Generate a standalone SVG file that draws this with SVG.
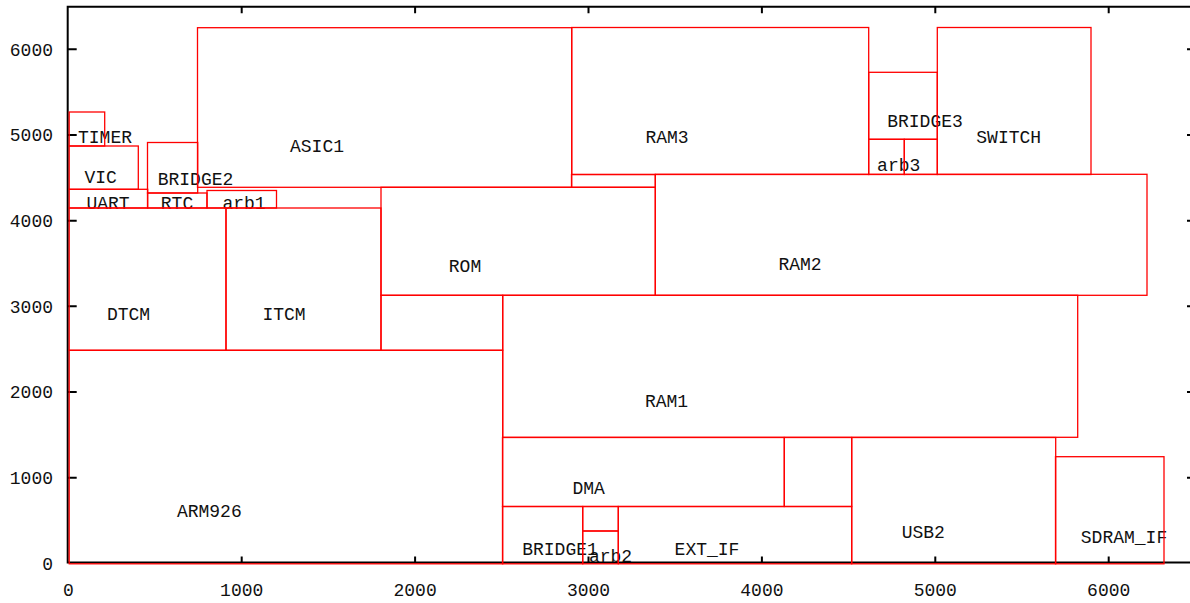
<svg xmlns="http://www.w3.org/2000/svg" width="1190" height="603" viewBox="0 0 1190 603">
<style>
.blk{fill:none;stroke:#ff0000;stroke-width:1.3}
.lbl{font-family:"Liberation Mono","DejaVu Sans Mono",monospace;font-size:18px;fill:#111;text-anchor:middle}
.tk{font-family:"Liberation Mono","DejaVu Sans Mono",monospace;font-size:18px;fill:#111}
.ax{fill:none;stroke:#000;stroke-width:2}
</style>
<rect width="1190" height="603" fill="#fff"/>
<g id="axes">
<path class="ax" d="M67.7,6.7 H1195 V562.5 H67.7 Z"/>
<path class="ax" d="M67.7,49.3h9M67.7,135h9M67.7,220.7h9M67.7,306.3h9M67.7,392h9M67.7,477.7h9M1187,49.3h9M1187,135h9M1187,220.7h9M1187,306.3h9M1187,392h9M1187,477.7h9"/>
<path class="ax" d="M241.7,6.7v6.5M415.1,6.7v6.5M588.5,6.7v6.5M761.9,6.7v6.5M935.3,6.7v6.5M1108.7,6.7v6.5M241.7,562.5v-6M415.1,562.5v-6M588.5,562.5v-6M761.9,562.5v-6M935.3,562.5v-6M1108.7,562.5v-6"/>
<g class="tk" text-anchor="end">
<text x="53" y="569.5">0</text>
<text x="53" y="484">1000</text>
<text x="53" y="398.3">2000</text>
<text x="53" y="312.6">3000</text>
<text x="53" y="227">4000</text>
<text x="53" y="141.3">5000</text>
<text x="53" y="55.6">6000</text>
</g>
<g class="tk" text-anchor="middle">
<text x="68.3" y="596">0</text>
<text x="241.7" y="596">1000</text>
<text x="415.1" y="596">2000</text>
<text x="588.5" y="596">3000</text>
<text x="761.9" y="596">4000</text>
<text x="935.3" y="596">5000</text>
<text x="1108.7" y="596">6000</text>
</g>
</g>
<g id="TIMER"><text class="lbl" x="105" y="143">TIMER</text><rect class="blk" x="69.2" y="112" width="35.5" height="34"/></g>
<g id="VIC"><text class="lbl" x="100.7" y="182.7">VIC</text><rect class="blk" x="69.2" y="146" width="69.1" height="43.3"/></g>
<g id="UART"><text class="lbl" x="108" y="208.7">UART</text><rect class="blk" x="69.2" y="189.3" width="78.5" height="18.7"/></g>
<g id="BRIDGE2"><text class="lbl" x="195.5" y="185">BRIDGE2</text><rect class="blk" x="147.5" y="142.5" width="50.2" height="50.5"/></g>
<g id="RTC"><text class="lbl" x="177" y="208.7">RTC</text><rect class="blk" x="147.5" y="193" width="59.5" height="15"/></g>
<g id="arb1"><text class="lbl" x="244" y="209">arb1</text><rect class="blk" x="207" y="190.5" width="69.5" height="17.5"/></g>
<g id="ASIC1"><text class="lbl" x="317" y="151.7">ASIC1</text><rect class="blk" x="197.5" y="27.7" width="374.2" height="159.6"/></g>
<g id="DTCM"><text class="lbl" x="128.5" y="320">DTCM</text><rect class="blk" x="69.2" y="208" width="156.8" height="142.3"/></g>
<g id="ITCM"><text class="lbl" x="284" y="320">ITCM</text><rect class="blk" x="226" y="208" width="155" height="142.3"/></g>
<g id="ROM"><text class="lbl" x="465" y="272.3">ROM</text><rect class="blk" x="381" y="187.3" width="274.3" height="108"/></g>
<g id="block_a"><rect class="blk" x="381" y="295.3" width="121.7" height="55"/></g>
<g id="block_b"><rect class="blk" x="571.5" y="174.5" width="83.8" height="12.8"/></g>
<g id="RAM3"><text class="lbl" x="667" y="143.3">RAM3</text><rect class="blk" x="571.7" y="27.5" width="297" height="147"/></g>
<g id="BRIDGE3"><text class="lbl" x="925" y="126.7">BRIDGE3</text><rect class="blk" x="868.7" y="72.3" width="68.6" height="67"/></g>
<g id="arb3"><text class="lbl" x="898.7" y="170.7">arb3</text><rect class="blk" x="868.7" y="139.3" width="35.6" height="35.2"/><rect class="blk" x="904.3" y="139.3" width="33" height="35.2"/></g>
<g id="SWITCH"><text class="lbl" x="1008.7" y="143.3">SWITCH</text><rect class="blk" x="937.3" y="27.5" width="153.7" height="147"/></g>
<g id="RAM2"><text class="lbl" x="800" y="270">RAM2</text><rect class="blk" x="655.3" y="174.3" width="491.7" height="121"/></g>
<g id="RAM1"><text class="lbl" x="666.5" y="407">RAM1</text><rect class="blk" x="502.7" y="295.3" width="575" height="142"/></g>
<g id="DMA"><text class="lbl" x="588.7" y="494">DMA</text><rect class="blk" x="502.5" y="437.5" width="281.8" height="69"/></g>
<g id="block_c"><rect class="blk" x="784.3" y="437.5" width="67.4" height="69"/></g>
<g id="BRIDGE1"><text class="lbl" x="560" y="555.3">BRIDGE1</text><rect class="blk" x="502.5" y="506.5" width="80.2" height="57.3"/></g>
<g id="arb2"><text class="lbl" x="610.5" y="561.7">arb2</text><rect class="blk" x="582.7" y="506.5" width="35.6" height="24.5"/><rect class="blk" x="582.7" y="531" width="35.6" height="32.8"/></g>
<g id="EXT_IF"><text class="lbl" x="707" y="555.3">EXT_IF</text><rect class="blk" x="618.3" y="506.5" width="233.4" height="57.3"/></g>
<g id="USB2"><text class="lbl" x="923.3" y="537.7">USB2</text><rect class="blk" x="851.7" y="437.5" width="204" height="126.3"/></g>
<g id="SDRAM_IF"><text class="lbl" x="1124" y="543.3">SDRAM_IF</text><rect class="blk" x="1055.5" y="456.7" width="108.5" height="107.1"/></g>
<g id="ARM926"><text class="lbl" x="209.3" y="516.7">ARM926</text><rect class="blk" x="69.2" y="350.3" width="433.5" height="213.5"/></g>
</svg>
